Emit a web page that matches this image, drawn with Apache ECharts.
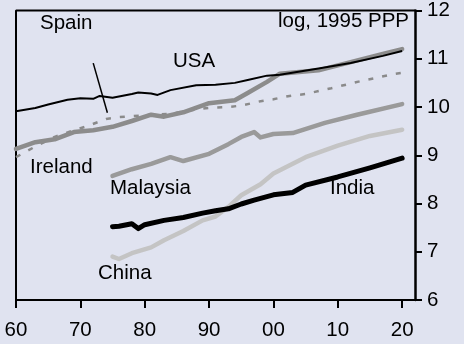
<!DOCTYPE html>
<html>
<head>
<meta charset="utf-8">
<script src="https://cdn.jsdelivr.net/npm/echarts@6/dist/echarts.min.js"></script>
<style>
html,body{margin:0;padding:0;background:#e0e3f0;}
#c{width:464px;height:344px;}
</style>
</head>
<body>
<div id="c"></div>
<script>
// ---- data ----
var xMin = 1960, xMax = 2022, yMin = 6, yMax = 12;
var xTicks = [1960, 1970, 1980, 1990, 2000, 2010, 2020];
var xTickLabels = ['60', '70', '80', '90', '00', '10', '20'];
var yTicks = [6, 7, 8, 9, 10, 11, 12];

// plot frame (left and top edges), in data units
var frameXs = [xMin, xMin, xMax];
var frameYs = [yMin, yMax, yMax];

var usaYears = [1960,1963,1965,1968,1970,1972,1973,1975,1978,1979,1981,1982,1984,1988,1991,1994,1996,1999,2001,2007,2012,2017,2020];
var usaVals  = [9.91,9.98,10.05,10.15,10.18,10.17,10.23,10.19,10.27,10.30,10.28,10.25,10.35,10.45,10.46,10.50,10.56,10.65,10.67,10.80,10.91,11.06,11.16];

var irelandYears = [1960,1963,1966,1969,1972,1975,1978,1981,1983,1986,1990,1994,1996,1999,2001,2007,2012,2017,2020];
var irelandVals  = [9.13,9.27,9.33,9.48,9.52,9.59,9.71,9.84,9.80,9.89,10.08,10.14,10.29,10.52,10.69,10.76,10.93,11.10,11.20];

var spainYears = [1960,1963,1966,1969,1971,1974,1976,1980,1984,1988,1990,1993,1995,1998,2000,2002,2005,2009,2014,2019,2020];
var spainVals  = [8.96,9.18,9.38,9.52,9.60,9.75,9.79,9.83,9.86,9.95,9.98,10.00,10.03,10.12,10.16,10.22,10.27,10.39,10.55,10.69,10.71];

var malaysiaYears = [1975,1978,1981,1984,1986,1990,1993,1995,1997,1998,2000,2003,2008,2013,2020];
var malaysiaVals  = [8.57,8.71,8.82,8.96,8.88,9.03,9.23,9.38,9.48,9.37,9.44,9.46,9.67,9.84,10.06];

var chinaYears = [1975,1976,1978,1981,1983,1986,1989,1991,1993,1995,1998,2000,2005,2010,2015,2020];
var chinaVals  = [6.90,6.85,6.97,7.09,7.24,7.43,7.65,7.73,7.93,8.17,8.40,8.62,8.96,9.20,9.40,9.53];

var indiaYears = [1975,1976,1978,1979,1980,1983,1986,1989,1991,1993,1995,1997,2000,2003,2005,2010,2015,2020];
var indiaVals  = [7.52,7.53,7.58,7.48,7.56,7.65,7.71,7.80,7.85,7.89,7.99,8.07,8.18,8.23,8.38,8.55,8.74,8.94];

var spainPointerXs = [1972.0, 1974.2];
var spainPointerYs = [10.91, 9.88];

function pairs(xs, ys) { return xs.map(function (x, i) { return [x, ys[i]]; }); }

var FONT = 'Liberation Sans, Arial, sans-serif';
var FS = 20.5;
var BLACK = '#000';

var chart = echarts.init(document.getElementById('c'), null, {renderer: 'canvas'});
var textStyle = function (t) { return {text: t, font: FS + 'px ' + FONT, fill: BLACK}; };
chart.setOption({
  backgroundColor: '#e0e3f0',
  animation: false,
  grid: {left: 16, right: 49, top: 6, bottom: 44, show: false},
  xAxis: {
    type: 'value', min: xMin, max: xMax, interval: 10, position: 'bottom',
    splitLine: {show: false},
    axisLine: {show: true, onZero: false, lineStyle: {color: BLACK, width: 2}},
    axisTick: {show: true, inside: false, length: 8, lineStyle: {color: BLACK, width: 2}, customValues: xTicks},
    axisLabel: {
      customValues: xTicks,
      margin: 20, color: BLACK, fontFamily: FONT, fontSize: FS,
      formatter: function (v) { var i = xTicks.indexOf(Math.round(v)); return i >= 0 ? xTickLabels[i] : ''; }
    }
  },
  yAxis: {
    type: 'value', position: 'right', min: yMin, max: yMax, interval: 1,
    splitLine: {show: false},
    axisLine: {show: true, onZero: false, lineStyle: {color: BLACK, width: 2.5}},
    axisTick: {show: true, inside: false, length: 7, lineStyle: {color: BLACK, width: 2}, customValues: yTicks},
    axisLabel: {customValues: yTicks, margin: 12, color: BLACK, fontFamily: FONT, fontSize: FS, align: 'left'}
  },
  series: [
    {name: 'frame', type: 'line', data: pairs(frameXs, frameYs), showSymbol: false, symbol: 'none', clip: false,
     silent: true, lineStyle: {color: BLACK, width: 2}, z: 1},
    {name: 'Spain', type: 'line', data: pairs(spainYears, spainVals), showSymbol: false, symbol: 'none',
     lineStyle: {color: '#8a8a8a', width: 2.5, type: [5, 9]}, z: 2},
    {name: 'SpainPointer', type: 'line', data: pairs(spainPointerXs, spainPointerYs), showSymbol: false, symbol: 'none',
     silent: true, lineStyle: {color: BLACK, width: 1.5}, z: 6},
    {name: 'Ireland', type: 'line', data: pairs(irelandYears, irelandVals), showSymbol: false, symbol: 'none',
     lineStyle: {color: '#8c8c8c', width: 4.5, cap: 'round', join: 'round'}, z: 3},
    {name: 'Malaysia', type: 'line', data: pairs(malaysiaYears, malaysiaVals), showSymbol: false, symbol: 'none',
     lineStyle: {color: '#9a9a9a', width: 4.5, cap: 'round', join: 'round'}, z: 3},
    {name: 'China', type: 'line', data: pairs(chinaYears, chinaVals), showSymbol: false, symbol: 'none',
     lineStyle: {color: '#c4c4c4', width: 4.5, cap: 'round', join: 'round'}, z: 3},
    {name: 'India', type: 'line', data: pairs(indiaYears, indiaVals), showSymbol: false, symbol: 'none',
     lineStyle: {color: BLACK, width: 5, cap: 'round', join: 'round'}, z: 4},
    {name: 'USA', type: 'line', data: pairs(usaYears, usaVals), showSymbol: false, symbol: 'none',
     lineStyle: {color: BLACK, width: 2, join: 'round'}, z: 5}
  ],
  graphic: [
    {type: 'text', left: 40, top: 13, style: textStyle('Spain')},
    {type: 'text', left: 173, top: 51, style: textStyle('USA')},
    {type: 'text', right: 55, top: 11, style: textStyle('log, 1995 PPP')},
    {type: 'text', left: 30, top: 157, style: textStyle('Ireland')},
    {type: 'text', left: 110, top: 178, style: textStyle('Malaysia')},
    {type: 'text', left: 98, top: 263, style: textStyle('China')},
    {type: 'text', left: 330, top: 178, style: textStyle('India')}
  ]
});
</script>
</body>
</html>
